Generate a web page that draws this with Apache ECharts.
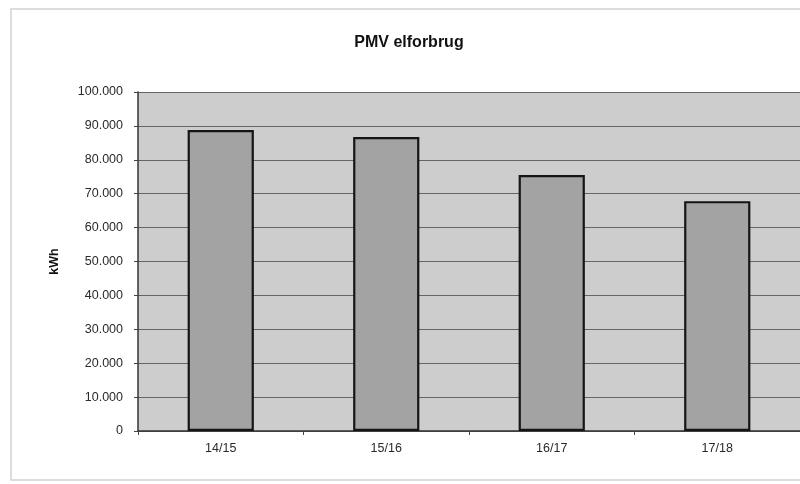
<!DOCTYPE html>
<html style="height: 100%">
<head>
  <meta charset="UTF-8" />
  <title>PMV elforbrug</title>
  <script src="https://cdn.jsdelivr.net/npm/echarts@6/dist/echarts.min.js"></script>
</head>
<body style="height: 100%; margin: 0; background: #fff">
  <div id="container" style="width: 800px; height: 484px"></div>
  <script>
    const seasons = ['14/15', '15/16', '16/17', '17/18'];
    const consumption = [88800, 86700, 75500, 67800];

    const chart = echarts.init(document.getElementById('container'), null, { renderer: 'canvas' });

    const fmt = v => v === 0 ? '0' : String(v).replace(/\B(?=(\d{3})+(?!\d))/g, '.');

    chart.setOption({
      animation: false,
      backgroundColor: '#fff',
      graphic: [{
        type: 'rect',
        shape: { x: 11, y: 9, width: 800, height: 471 },
        style: { fill: 'none', stroke: '#d2d2d2', lineWidth: 1.5 },
        z: -1
      }],
      title: {
        text: 'PMV elforbrug',
        left: 404, top: 30, textAlign: 'center',
        textStyle: { fontFamily: 'Liberation Sans', fontSize: 16, fontWeight: 'bold', color: '#111' }
      },
      grid: {
        left: 138, right: -2, top: 92, bottom: 53,
        show: true, backgroundColor: '#cdcdcd', borderWidth: 0
      },
      xAxis: {
        type: 'category',
        data: seasons,
        axisLine: { lineStyle: { color: '#333', width: 1.5 } },
        axisTick: { show: true, length: 4, lineStyle: { color: '#444' } },
        axisLabel: { color: '#2a2a2a', fontFamily: 'Liberation Sans', fontSize: 12.5, margin: 11 }
      },
      yAxis: {
        type: 'value',
        min: 0, max: 100000, interval: 10000,
        name: 'kWh',
        nameLocation: 'middle',
        nameGap: 77,
        nameTextStyle: { fontFamily: 'Liberation Sans', fontSize: 12.5, fontWeight: 'bold', color: '#111' },
        axisLine: { show: true, lineStyle: { color: '#333', width: 1.5 } },
        axisTick: { show: true, length: 4, lineStyle: { color: '#444' } },
        splitLine: { lineStyle: { color: '#666', width: 1.2 } },
        axisLabel: { color: '#2a2a2a', fontFamily: 'Liberation Sans', fontSize: 12.5, margin: 15, formatter: fmt }
      },
      series: [{
        type: 'bar',
        data: consumption,
        barWidth: '40%',
        itemStyle: { color: '#a3a3a3', borderColor: '#151515', borderWidth: 2.2 }
      }]
    });
  </script>
</body>
</html>
